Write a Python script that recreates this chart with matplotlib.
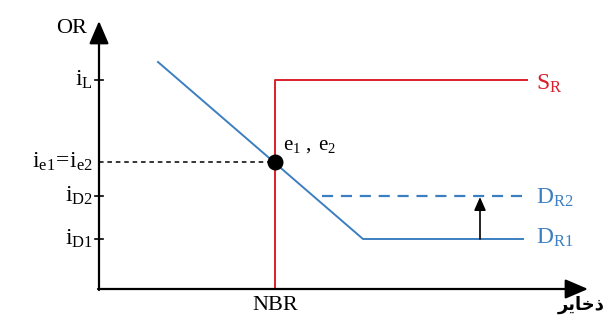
import matplotlib
matplotlib.use('Agg')
import matplotlib.pyplot as plt

plt.rcParams['mathtext.fontset'] = 'custom'
plt.rcParams['mathtext.rm'] = 'Liberation Serif'
plt.rcParams['mathtext.it'] = 'Liberation Serif:italic'

# ==========================================
# data (units: origin at the axes corner)
# ==========================================
i_L = 209
i_e = 127
i_D2 = 93
i_D1 = 50
NBR = 176

demand_x = [59, 264, 424]          # D_R1 : falling part then flat at i_D1
demand_y = [227, i_D1, i_D1]
supply_x = [NBR, NBR, 428]         # S_R : vertical at NBR then flat at i_L
supply_y = [0, i_L, i_L]
dr2_x = [223, 428]                 # D_R2 dashed at i_D2
shift_x = 381                      # arrow from D_R1 up to D_R2

x_end = 489
y_end = 268

tick_vals = [i_L, i_e, i_D2, i_D1]
tick_labels = [r'$\mathrm{i_L}$', r'$\mathrm{i_{e1}\!=\!i_{e2}}$',
               r'$\mathrm{i_{D2}}$', r'$\mathrm{i_{D1}}$']

RED = '#d8202c'
BLUE = '#3c7fc0'
SERIF = 'Liberation Serif'

fig = plt.figure(figsize=(6.08, 3.22), dpi=100)
ax = fig.add_axes([0, 0, 1, 1])
ax.set_xlim(-99, 509)
ax.set_ylim(-33, 289)
ax.axis('off')

# axes with arrows
head = '-|>,head_length=1.4,head_width=0.6'
ax.annotate('', xy=(x_end, 0), xytext=(-1, 0),
            arrowprops=dict(arrowstyle=head, color='black', lw=1.6,
                            shrinkA=0, shrinkB=0))
ax.annotate('', xy=(0, y_end), xytext=(0, -1),
            arrowprops=dict(arrowstyle=head, color='black', lw=1.6,
                            shrinkA=0, shrinkB=0))

# y ticks
for v, lab in zip(tick_vals, tick_labels):
    if v != i_e:
        ax.plot([-4, 4], [v, v], color='black', lw=1.2)
    ax.text(-6, v, lab, ha='right', va='center', fontsize=17, family=SERIF)

# equilibrium guide
ax.plot([0, NBR], [i_e, i_e], color='black', lw=1.1, ls=(0, (3, 2.5)))

# curves
ax.plot(supply_x, supply_y, color=RED, lw=1.4)
ax.plot(demand_x, demand_y, color=BLUE, lw=1.4)
ax.plot(dr2_x, [i_D2, i_D2], color=BLUE, lw=1.6, ls=(0, (5, 3.5)))
ax.annotate('', xy=(shift_x, i_D2 - 1), xytext=(shift_x, i_D1),
            arrowprops=dict(arrowstyle='-|>,head_length=0.8,head_width=0.35',
                            color='black', lw=1.2, shrinkA=0, shrinkB=0))
ax.plot([NBR], [i_e], 'o', color='black', ms=10.5)

# labels
ax.text(-12, y_end - 7, 'OR', ha='right', va='center', fontsize=16, family=SERIF)
ax.text(NBR, -17, 'NBR', ha='center', va='center', fontsize=16, family=SERIF)
ax.text(NBR + 8, i_e + 17, r'$\mathrm{e_1\ ,\ e_2}$', ha='left', va='center',
        fontsize=15)
ax.text(437, i_L - 3, r'$\mathrm{S_R}$', ha='left', va='center', fontsize=17, color=RED)
ax.text(437, i_D2 - 1, r'$\mathrm{D_{R2}}$', ha='left', va='center', fontsize=17, color=BLUE)
ax.text(437, i_D1 + 2, r'$\mathrm{D_{R1}}$', ha='left', va='center', fontsize=17, color=BLUE)
# ذخایر (presentation forms, visual order)
ax.text(506, -16, '\ufeae\ufbfe\ufe8e\ufea7\ufeab', ha='right', va='center',
        fontsize=13, fontweight='bold', family='DejaVu Sans')

fig.savefig('out.png', dpi=100)
